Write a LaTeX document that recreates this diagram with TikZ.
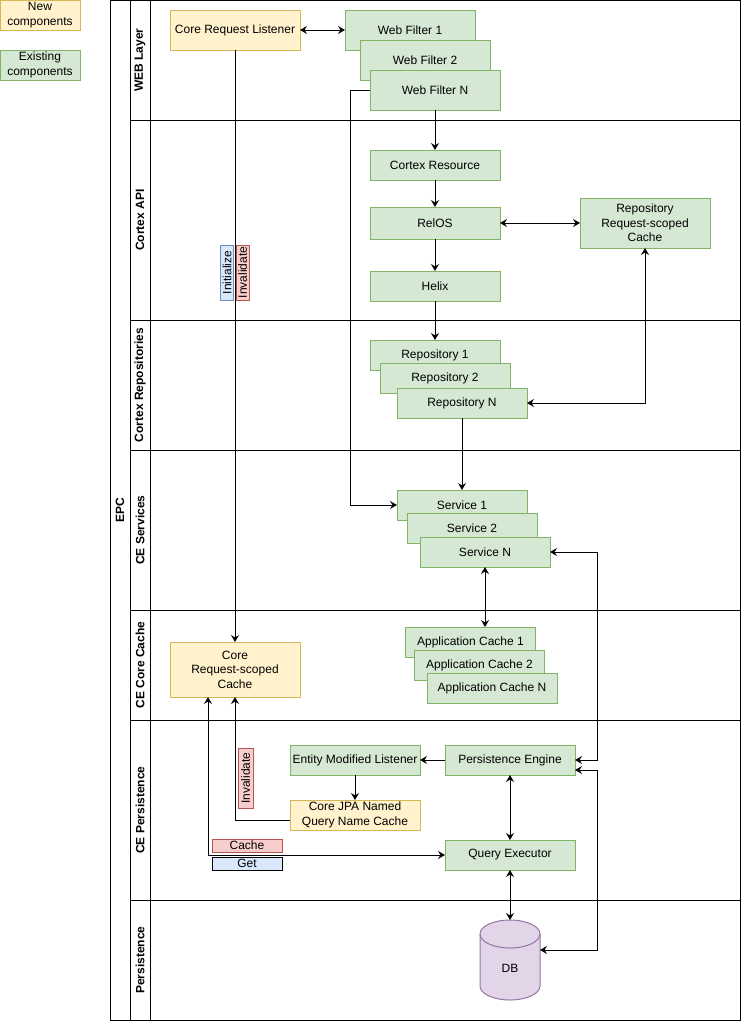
\documentclass[tikz,border=0pt]{standalone}
\usepackage{fontspec}
\setmainfont{Liberation Sans}
\usetikzlibrary{arrows.meta}
\definecolor{newfill}{HTML}{FFF2CC}
\definecolor{newedge}{HTML}{D6B656}
\definecolor{oldfill}{HTML}{D5E8D4}
\definecolor{oldedge}{HTML}{82B366}
\definecolor{redfill}{HTML}{F8CECC}
\definecolor{rededge}{HTML}{B85450}
\definecolor{bluefill}{HTML}{DAE8FC}
\definecolor{blueedge}{HTML}{6C8EBF}
\definecolor{dbfill}{HTML}{E1D5E7}
\definecolor{dbedge}{HTML}{9673A6}

\begin{document}
\begin{tikzpicture}[x=1pt, y=-1pt, line width=1pt,
    box/.style={draw, minimum width=130pt, minimum height=30pt, inner sep=1pt, outer sep=0pt,
        align=center, font=\fontsize{12}{14.4}\selectfont},
    newcomp/.style={box, fill=newfill, draw=newedge},
    oldcomp/.style={box, fill=oldfill, draw=oldedge},
    tag/.style={draw, inner sep=0pt, outer sep=0pt, minimum height=13pt, font=\fontsize{12}{12}\selectfont},
    redtag/.style={tag, fill=redfill, draw=rededge},
    bluetag/.style={tag, fill=bluefill, draw=blueedge},
    lanetitle/.style={rotate=90, font=\bfseries\fontsize{12}{14}\selectfont},
    tip/.tip={Stealth[length=7pt, width=8pt, inset=2.5pt]},
    link/.style={-tip},
    duplex/.style={tip-tip}]
    \useasboundingbox (0,0) rectangle (741,1021);

    % Pool and lanes
    \draw (110,0) rectangle (740,1020);
    \draw (130,0) -- (130,1020);
    \draw (150,0) -- (150,1020);
    \foreach \y in {120,320,450,610,720,900}
        \draw (130,\y) -- (740,\y);
    \node[lanetitle] (epc) at (120,510) {EPC};
    \node[lanetitle] (weblane) at (140,60) {WEB Layer};
    \node[lanetitle] (apilane) at (140,220) {Cortex API};
    \node[lanetitle] (repolane) at (140,385) {Cortex Repositories};
    \node[lanetitle] (svclane) at (140,530) {CE Services};
    \node[lanetitle] (cachelane) at (140,665) {CE Core Cache};
    \node[lanetitle] (cepersistlane) at (140,810) {CE Persistence};
    \node[lanetitle] (persistlane) at (140,960) {Persistence};

    % Legend
    \node[newcomp, minimum width=80pt] (legnew) at (40,15) {New\\components};
    \node[oldcomp, minimum width=80pt] (legold) at (40,65) {Existing\\components};

    % Web layer
    \node[newcomp, minimum height=40pt] (crl) at (235,30) {Core Request Listener};
    \node[oldcomp, minimum height=40pt] (wf1) at (410,30) {Web Filter 1};
    \node[oldcomp, minimum height=40pt] (wf2) at (425,60) {Web Filter 2};
    \node[oldcomp, minimum height=40pt] (wfn) at (435,90) {Web Filter N};

    % Cortex API
    \node[oldcomp] (cres) at (435,165) {Cortex Resource};
    \node[oldcomp, minimum height=32pt] (relos) at (435,223) {RelOS};
    \node[oldcomp] (helix) at (435,286) {Helix};
    \node[oldcomp, minimum height=50pt] (rcache) at (645,223) {Repository\\Request-scoped\\Cache};

    % Repositories and services
    \node[oldcomp] (repo1) at (435,355) {Repository 1};
    \node[oldcomp] (repo2) at (445,378) {Repository 2};
    \node[oldcomp] (repon) at (462,403) {Repository N};
    \node[oldcomp] (svc1) at (462,505) {Service 1};
    \node[oldcomp] (svc2) at (472,528) {Service 2};
    \node[oldcomp] (svcn) at (485,552) {Service N};

    % Core cache
    \node[newcomp, minimum height=55pt] (ccache) at (235,669.5) {Core\\Request-scoped\\Cache};
    \node[oldcomp] (ac1) at (470.5,642) {Application Cache 1};
    \node[oldcomp] (ac2) at (479.5,665) {Application Cache 2};
    \node[oldcomp] (acn) at (492,688) {Application Cache N};

    % Persistence
    \node[oldcomp] (eml) at (355,760) {Entity Modified Listener};
    \node[oldcomp] (pe) at (510,760) {Persistence Engine};
    \node[newcomp] (jpa) at (355,815) {Core JPA Named\\Query Name Cache};
    \node[oldcomp] (qe) at (510,855) {Query Executor};
    \node[minimum width=60pt, minimum height=80pt, inner sep=0pt, outer sep=0pt] (db) at (510,960) {};
    \draw[fill=dbfill, draw=dbedge] ([yshift=-14pt]db.north west) -- ([yshift=14pt]db.south west)
        arc[start angle=180, end angle=360, x radius=30pt, y radius=14pt]
        -- ([yshift=-14pt]db.north east)
        arc[start angle=0, end angle=180, x radius=30pt, y radius=14pt] -- cycle;
    \draw[draw=dbedge] ([yshift=-14pt]db.north west) arc[start angle=180, end angle=360, x radius=30pt, y radius=14pt];
    \node[font=\fontsize{12}{14.4}\selectfont] (dbtext) at (510,968) {DB};

    % Connectors
    \draw[duplex] (crl.east) -- (wf1.west);
    \draw[link] (wfn.south) -- (cres.north);
    \draw[link] (cres.south) -- (relos.north);
    \draw[link] (relos.south) -- (helix.north);
    \draw[duplex] (relos.east) -- (rcache.west);
    \draw[link] (helix.south) -- (repo1.north);
    \draw[duplex] (rcache.south) |- (repon.east);
    \draw[link] (repon.south) -- (svc1.north);
    \draw[link] (wfn.west) -- ++(-20,0) |- (svc1.west);
    \draw[duplex] (svcn.south) -- (svcn.south |- ac1.north);
    \draw[link] (crl.south) -- (ccache.north);
    \draw[duplex] (svcn.east) -- ++(47,0) |- (pe.east);
    \draw[duplex] ([yshift=-10pt]pe.east) -- ++(22,0) |- ([yshift=10pt]db.east);
    \draw[link] (pe.west) -- (eml.east);
    \draw[link] (eml.south) -- (jpa.north);
    \draw[link] ([yshift=-5pt]jpa.west) -| (ccache.south);
    \draw[duplex] ([xshift=-27pt]ccache.south) |- (qe.west);
    \draw[duplex] (pe.south) -- (qe.north);
    \draw[duplex] (qe.south) -- (db.north);

    % Labels on connectors
    \node[bluetag, rotate=90, minimum width=55pt] (init) at (227,272.5) {Initialize};
    \node[redtag, rotate=90, minimum width=55pt] (inval) at (242.5,272.5) {Invalidate};
    \node[redtag, rotate=90, minimum width=60pt, minimum height=15pt] (invaljpa) at (245.5,778) {Invalidate};
    \node[redtag, minimum width=70pt] (cachetag) at (247,845.5) {Cache};
    \node[bluetag, draw=black, minimum width=70pt] (gettag) at (247,863.5) {Get};
\end{tikzpicture}
\end{document}
